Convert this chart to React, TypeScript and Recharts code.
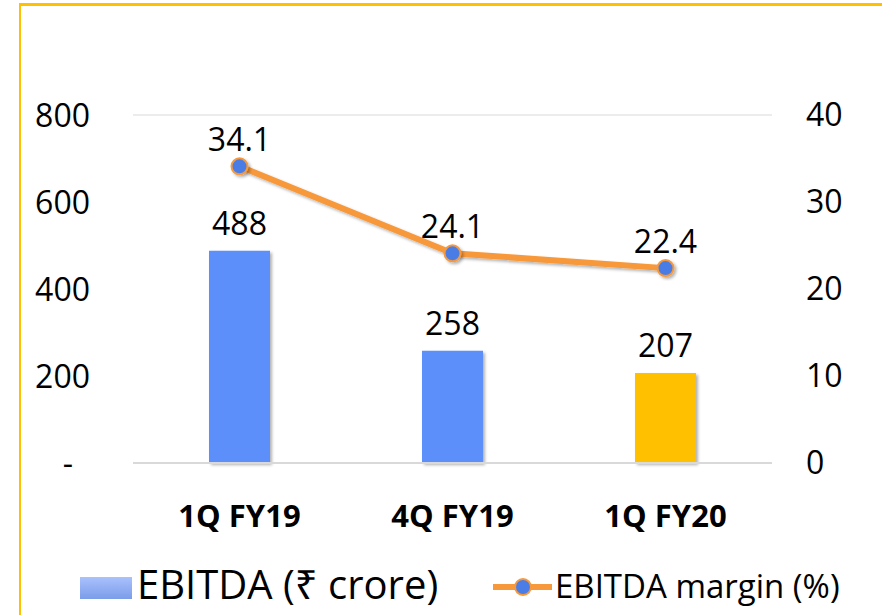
import React from 'react';
import { ComposedChart, Bar, Line, XAxis, YAxis, CartesianGrid, LabelList, Cell } from 'recharts';

const categories = ['1Q FY19', '4Q FY19', '1Q FY20'];
const ebitda = [488, 258, 207];
const margin = [34.1, 24.1, 22.4];
const barColors = ['#5B8FF9', '#5B8FF9', '#FFC000'];
const leftTicks = [0, 200, 400, 600, 800];
const rightTicks = [0, 10, 20, 30, 40];
const legendLabels = ['EBITDA (₹ crore)', 'EBITDA margin (%)'];

const data = categories.map((c, i) => ({ name: c, ebitda: ebitda[i], margin: margin[i] }));

const FONT = '"Open Sans", "Noto Sans", "DejaVu Sans", sans-serif';
const ORANGE = '#F7993B';
const DOT_BLUE = '#4A7DE5';

const LeftTick = (props: any) => {
  const { x, y, payload } = props;
  const isZero = payload.value === 0;
  return (
    <text
      x={isZero ? x - 17 : x}
      y={y}
      dy="0.36em"
      textAnchor="end"
      fontSize={32}
      fontFamily={FONT}
      fill="#000"
    >
      {isZero ? '-' : payload.value}
    </text>
  );
};

export default function App() {
  return (
    <div style={{ position: 'absolute', left: 0, top: 0, width: 882, height: 615, background: '#fff', overflow: 'hidden' }}>
      <div
        style={{
          position: 'absolute',
          left: 19,
          top: 3,
          width: 900,
          height: 700,
          borderTop: '3px solid #FFC000',
          borderLeft: '2px solid #FFC000',
        }}
      />
      <ComposedChart
        width={882}
        height={615}
        data={data}
        margin={{ top: 115, right: 0, bottom: 72, left: 0 }}
        style={{ position: 'absolute', left: 0, top: 0, fontFamily: FONT }}
      >
        <defs>
          <filter id="shadow" x="-20%" y="-20%" width="150%" height="150%">
            <feDropShadow dx="2" dy="2" stdDeviation="1.5" floodColor="#000" floodOpacity="0.3" />
          </filter>
        </defs>
        <CartesianGrid vertical={false} stroke="#E6E6E6" strokeWidth={1.5} />
        <XAxis
          dataKey="name"
          height={80}
          tickSize={0}
          tickMargin={42}
          axisLine={{ stroke: '#D9D9D9', strokeWidth: 2 }}
          tickLine={false}
          tick={{ fontSize: 31, fontWeight: 700, fill: '#000', fontFamily: FONT }}
          interval={0}
        />
        <YAxis
          yAxisId="left"
          orientation="left"
          width={133}
          domain={[0, 800]}
          ticks={leftTicks}
          tickSize={0}
          tickMargin={43}
          axisLine={false}
          tickLine={false}
          tick={<LeftTick />}
        />
        <YAxis
          yAxisId="right"
          orientation="right"
          width={110}
          domain={[0, 40]}
          ticks={rightTicks}
          tickSize={0}
          tickMargin={34}
          axisLine={false}
          tickLine={false}
          tick={{ fontSize: 32, fill: '#000', fontFamily: FONT }}
        />
        <Bar yAxisId="left" dataKey="ebitda" barSize={61} isAnimationActive={false} filter="url(#shadow)">
          {data.map((d, i) => (
            <Cell key={d.name} fill={barColors[i]} />
          ))}
          <LabelList dataKey="ebitda" position="top" offset={16} fill="#000" fontSize={32} fontFamily={FONT} />
        </Bar>
        <Line
          yAxisId="right"
          dataKey="margin"
          stroke={ORANGE}
          strokeWidth={6}
          dot={{ r: 8, fill: DOT_BLUE, stroke: ORANGE, strokeWidth: 2 }}
          activeDot={false}
          isAnimationActive={false}
          filter="url(#shadow)"
        >
          <LabelList dataKey="margin" position="top" offset={15} fill="#000" fontSize={32} fontFamily={FONT} />
        </Line>
      </ComposedChart>
      <svg width={882} height={615} style={{ position: 'absolute', left: 0, top: 0, pointerEvents: 'none' }}>
        <defs>
          <linearGradient id="legendBar" x1="0" y1="0" x2="0" y2="1">
            <stop offset="0%" stopColor="#AAC2FC" />
            <stop offset="100%" stopColor="#7B9CEA" />
          </linearGradient>
        </defs>
        <rect x={80} y={577} width={52} height={22} fill="url(#legendBar)" />
        <text x={137} y={599} fontSize={40} fontFamily={FONT} fill="#000">{legendLabels[0]}</text>
        <line x1={493} y1={587} x2={552} y2={587} stroke={ORANGE} strokeWidth={6} />
        <circle cx={523} cy={587} r={8} fill={DOT_BLUE} stroke={ORANGE} strokeWidth={2} />
        <text x={555} y={598} fontSize={33} fontFamily={FONT} fill="#000">{legendLabels[1]}</text>
      </svg>
    </div>
  );
}
